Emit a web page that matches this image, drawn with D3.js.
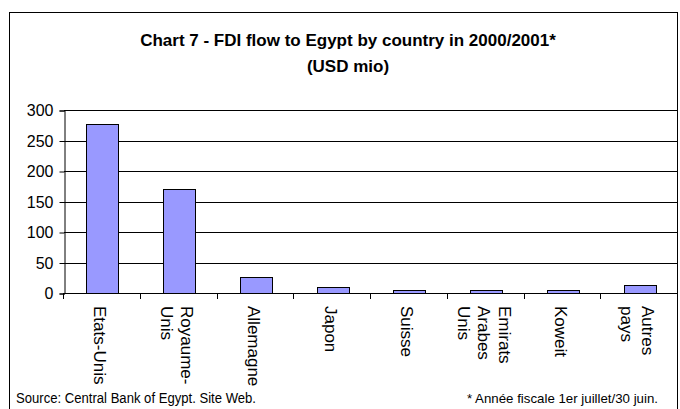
<!DOCTYPE html>
<html>
<head>
<meta charset="utf-8">
<script src="https://cdn.jsdelivr.net/npm/d3@7"></script>
<style>
  body { margin: 0; background: #fff; }
  svg { display: block; font-family: "Liberation Sans", Arial, sans-serif; }
</style>
</head>
<body>
<svg id="chart"></svg>
<script>
// data
let categories = ['Etats-Unis', 'Royaume-\nUnis', 'Allemagne', 'Japon', 'Suisse', 'Emirats\nArabes\nUnis', 'Koweit', 'Autres\npays']
let values = [277, 170, 26, 10, 5, 5, 5, 13]
let yTicks = [0, 50, 100, 150, 200, 250, 300]
let titleLines = ['Chart 7 - FDI flow to Egypt by country in 2000/2001*', '(USD mio)']
let sourceText = 'Source: Central Bank of Egypt. Site Web.'
let noteText = '* Année fiscale 1er juillet/30 juin.'

let width = 680
let height = 409
// plot area box (not called top/left, those clash with window globals)
let plotLeft = 64
let plotRight = 678
let plotTop = 110
let plotBottom = 293

let svg = d3.select('#chart')
    .attr('width', width)
    .attr('height', height)

let xScale
let yScale

const drawFrame = () => {
    // outer chart border, bottom runs off the picture
    svg.append('rect')
        .attr('x', 9.5)
        .attr('y', 12.5)
        .attr('width', 668)
        .attr('height', 420)
        .attr('fill', 'none')
        .attr('stroke', '#000')
        .attr('stroke-width', 1)

    svg.append('g')
        .selectAll('text')
        .data(titleLines)
        .enter()
        .append('text')
        .attr('x', 348)
        .attr('y', (d, i) => 46 + i * 26)
        .attr('text-anchor', 'middle')
        .attr('font-size', 17)
        .attr('font-weight', 'bold')
        .text(d => d)
}

const getScales = () => {
    xScale = d3.scaleBand()
        .domain(categories)
        .range([plotLeft, plotRight])
        .padding(0)

    yScale = d3.scaleLinear()
        .domain([0, 300])
        .range([plotBottom, plotTop])
}

const drawGrid = () => {
    svg.append('g')
        .selectAll('line')
        .data(yTicks.filter(t => t > 0))
        .enter()
        .append('line')
        .attr('x1', plotLeft)
        .attr('x2', plotRight)
        .attr('y1', d => Math.round(yScale(d)) + 0.5)
        .attr('y2', d => Math.round(yScale(d)) + 0.5)
        .attr('stroke', '#000')
        .attr('stroke-width', 1)
}

const drawBars = () => {
    let barW = xScale.bandwidth() * 0.42
    svg.selectAll('rect.bar')
        .data(values)
        .enter()
        .append('rect')
        .attr('class', 'bar')
        .attr('x', (d, i) => Math.round(xScale(categories[i]) + (xScale.bandwidth() - barW) / 2) + 0.5)
        .attr('y', d => Math.round(yScale(d)) + 0.5)
        .attr('width', Math.round(barW))
        .attr('height', d => Math.round(yScale(0)) - Math.round(yScale(d)))
        .attr('fill', '#9999ff')
        .attr('stroke', '#000')
        .attr('stroke-width', 1)
}

const generateAxis = () => {
    let yAxis = d3.axisLeft(yScale)
        .tickValues(yTicks)
        .tickSize(5)
        .tickPadding(6)
    let yG = svg.append('g')
        .attr('transform', `translate(${plotLeft + 0.5}, 0.5)`)
        .call(yAxis)
    yG.selectAll('text')
        .attr('font-size', 16)
        .attr('font-family', '"Liberation Sans", Arial, sans-serif')
        .attr('fill', '#000')

    // x axis line plus ticks on the band edges
    let edges = categories.map(c => xScale(c)).concat([plotRight])
    let xG = svg.append('g')
    xG.append('line')
        .attr('x1', plotLeft)
        .attr('x2', plotRight)
        .attr('y1', plotBottom + 0.5)
        .attr('y2', plotBottom + 0.5)
        .attr('stroke', '#000')
    xG.selectAll('line.tick')
        .data(edges)
        .enter()
        .append('line')
        .attr('class', 'tick')
        .attr('x1', d => Math.round(d) - 0.5)
        .attr('x2', d => Math.round(d) - 0.5)
        .attr('y1', plotBottom)
        .attr('y2', plotBottom + 6)
        .attr('stroke', '#000')

    // rotated category labels, several lines each
    let lineGap = 20.5
    let labels = xG.selectAll('g.lab')
        .data(categories)
        .enter()
        .append('g')
        .attr('class', 'lab')
        .attr('transform', d => `translate(${xScale(d) + xScale.bandwidth() / 2 - 2}, 306) rotate(90)`)
    labels.each(function (d) {
        let lines = d.split('\n')
        let n = lines.length
        d3.select(this).selectAll('text')
            .data(lines)
            .enter()
            .append('text')
            .attr('x', 0)
            .attr('y', (l, i) => (i - (n - 1) / 2) * lineGap)
            .attr('dy', '0.35em')
            .attr('font-size', 17)
            .attr('text-anchor', 'start')
            .text(l => l)
    })
}

const drawNotes = () => {
    svg.append('text')
        .attr('x', 16)
        .attr('y', 403)
        .attr('font-size', 14)
        .attr('textLength', 240)
        .attr('lengthAdjust', 'spacingAndGlyphs')
        .text(sourceText)

    svg.append('text')
        .attr('x', 467)
        .attr('y', 403)
        .attr('font-size', 13.5)
        .attr('textLength', 191)
        .attr('lengthAdjust', 'spacingAndGlyphs')
        .text(noteText)
}

drawFrame()
getScales()
drawGrid()
drawBars()
generateAxis()
drawNotes()
</script>
</body>
</html>
